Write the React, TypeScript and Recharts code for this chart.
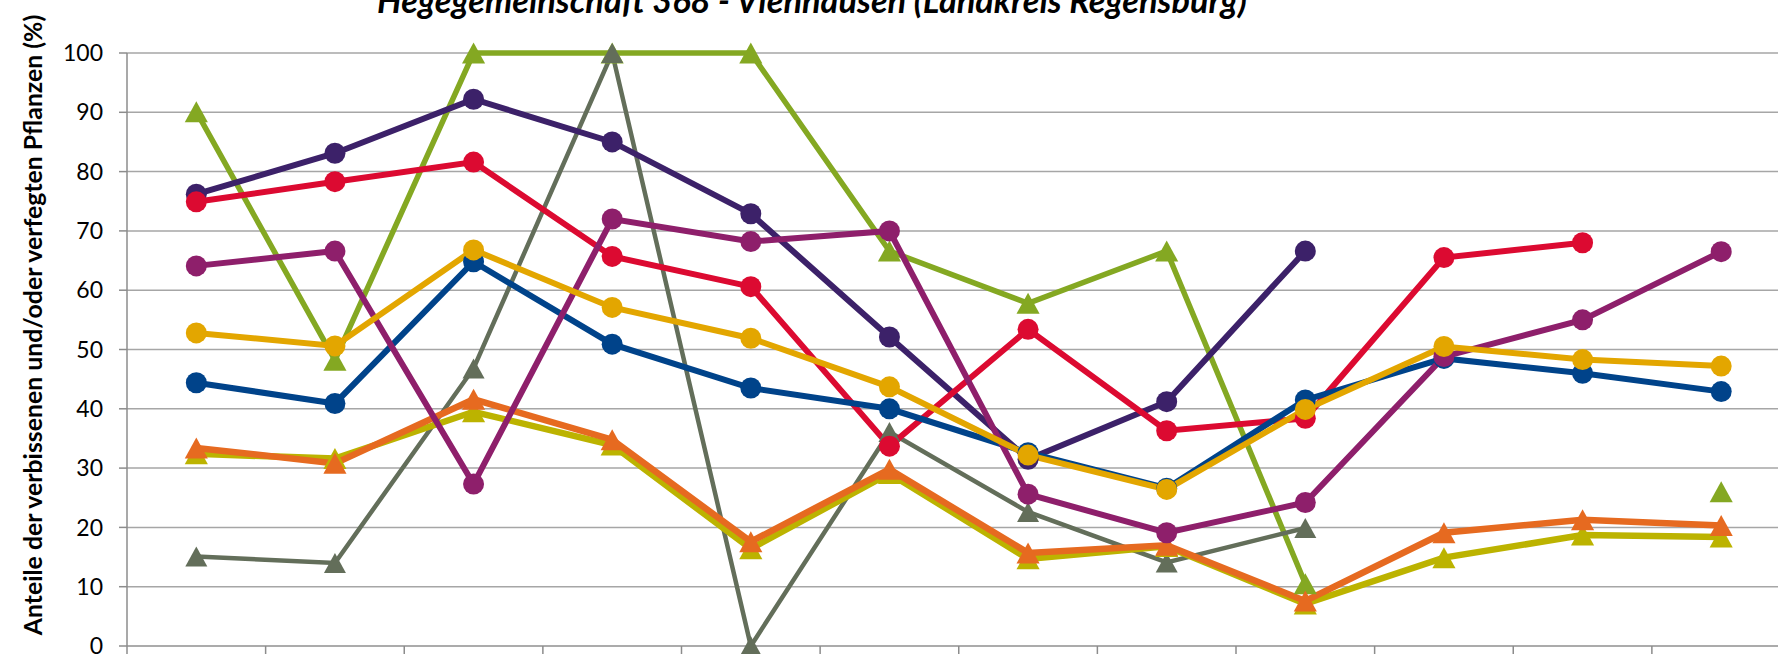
import React from 'react';
import { LineChart, Line, XAxis, YAxis, CartesianGrid } from 'recharts';

// ---- data ----
const years = ['1991', '1994', '1997', '2000', '2003', '2006', '2009', '2012', '2015', '2018', '2021', '2024'];
const yTicks = [0, 10, 20, 30, 40, 50, 60, 70, 80, 90, 100];

const seriesBlue = [44.4, 40.9, 64.8, 50.9, 43.5, 40.0, 32.6, 26.6, 41.5, 48.5, 46.0, 42.9];
const seriesPurple = [76.2, 83.1, 92.2, 85.0, 72.9, 52.1, 31.5, 41.2, 66.6, null, null, null];
const seriesRed = [74.9, 78.3, 81.6, 65.7, 60.6, 33.7, 53.4, 36.3, 38.4, 65.5, 68.0, null];
const seriesMagenta = [64.1, 66.6, 27.3, 72.0, 68.2, 70.0, 25.6, 19.1, 24.2, 48.8, 55.0, 66.5];
const seriesGold = [52.8, 50.6, 66.8, 57.1, 51.9, 43.7, 32.2, 26.4, 39.9, 50.5, 48.3, 47.2];
const seriesGreen = [90.1, 48.2, 100, 100, 100, 66.6, 57.8, 66.6, 10.5, null, null, 26.0];
const seriesGray = [15.1, 14.0, 46.8, 100, 0, 36.1, 22.6, 14.1, 19.9, null, null, null];
const seriesOlive = [32.4, 31.6, 39.5, 33.9, 16.4, 29.1, 14.7, 16.8, 7.1, 14.9, 18.7, 18.4];
const seriesOrange = [33.4, 30.8, 41.6, 34.8, 17.6, 29.8, 15.7, 17.0, 7.6, 19.1, 21.3, 20.3];

const title = 'Hegegemeinschaft 368 - Viehhausen (Landkreis Regensburg)';
const yLabel = 'Anteile der verbissenen und/oder verfegten Pflanzen (%)';

const data = years.map((year, i) => ({
  year,
  blue: seriesBlue[i],
  purple: seriesPurple[i],
  red: seriesRed[i],
  magenta: seriesMagenta[i],
  gold: seriesGold[i],
  green: seriesGreen[i],
  gray: seriesGray[i],
  olive: seriesOlive[i],
  orange: seriesOrange[i],
}));

// ---- layout ----
const W = 1800;
const H = 700;
const M = { top: 53, right: 9.5, left: 0, bottom: 24 };
const Y_AXIS_W = 127;
const HALF_BAND = (W - M.left - M.right - Y_AXIS_W) / years.length / 2;
const GRID = '#A6A6A6';
const AXIS = '#8C8C8C';
const FONT = 'Lato, "Open Sans", sans-serif';

const C = {
  blue: '#00438A',
  purple: '#3C2169',
  red: '#DC0A31',
  magenta: '#8E1F6B',
  gold: '#E3A600',
  green: '#84A822',
  gray: '#636E5A',
  olive: '#BCB300',
  orange: '#E66A20',
};

const triangleDot = (color: string, size: number) => (props: any) => {
  const { cx, cy, index, value } = props;
  if (cx == null || cy == null || value == null || Number.isNaN(cy)) return <g key={`t-${index}`} />;
  const hw = size * 0.55;
  const hh = size / 2;
  return (
    <path
      key={`t-${index}`}
      d={`M${cx},${cy - hh} L${cx + hw},${cy + hh} L${cx - hw},${cy + hh} Z`}
      fill={color}
    />
  );
};

const circle = (color: string) => ({ r: 10.5, fill: color, stroke: color, strokeWidth: 0 });

// category boundary tick marks (labels lie below the visible area in the reference)
const XTick = (props: any) => {
  const { x, y } = props;
  const bx = x - HALF_BAND;
  return <line x1={bx} x2={bx} y1={y} y2={y + 12} stroke={AXIS} strokeWidth={1.5} />;
};

export default function App() {
  return (
    <div
      style={{
        position: 'absolute',
        left: 0,
        top: 0,
        width: 1778,
        height: 654,
        overflow: 'hidden',
        background: '#fff',
      }}
    >
      <LineChart width={W} height={H} data={data} margin={M}>
        <CartesianGrid horizontal vertical={false} stroke={GRID} strokeWidth={1.5} />
        <XAxis
          dataKey="year"
          padding={{ left: HALF_BAND, right: HALF_BAND }}
          axisLine={{ stroke: GRID, strokeWidth: 1.5 }}
          tickLine={false}
          tickSize={0}
          tickMargin={0}
          height={30}
          interval={0}
          tick={<XTick />}
        />
        <YAxis
          width={Y_AXIS_W}
          domain={[0, 100]}
          ticks={yTicks}
          interval={0}
          axisLine={{ stroke: AXIS, strokeWidth: 1.5 }}
          tickLine={{ stroke: AXIS, strokeWidth: 1.5 }}
          tickSize={8}
          tickMargin={16}
          tick={{ fontFamily: FONT, fontSize: 23, fill: '#000' }}
        />
        <Line dataKey="green" stroke={C.green} strokeWidth={5.5} dot={triangleDot(C.green, 21)} isAnimationActive={false} />
        <Line dataKey="gray" stroke={C.gray} strokeWidth={4.5} dot={triangleDot(C.gray, 20)} isAnimationActive={false} />
        <Line dataKey="olive" stroke={C.olive} strokeWidth={6.5} dot={triangleDot(C.olive, 21)} isAnimationActive={false} />
        <Line dataKey="orange" stroke={C.orange} strokeWidth={6.5} dot={triangleDot(C.orange, 21)} isAnimationActive={false} />
        <Line dataKey="purple" stroke={C.purple} strokeWidth={6} dot={circle(C.purple)} isAnimationActive={false} />
        <Line dataKey="red" stroke={C.red} strokeWidth={6} dot={circle(C.red)} isAnimationActive={false} />
        <Line dataKey="blue" stroke={C.blue} strokeWidth={6} dot={circle(C.blue)} isAnimationActive={false} />
        <Line dataKey="magenta" stroke={C.magenta} strokeWidth={6} dot={circle(C.magenta)} isAnimationActive={false} />
        <Line dataKey="gold" stroke={C.gold} strokeWidth={6} dot={circle(C.gold)} isAnimationActive={false} />
      </LineChart>
      <svg
        width={1778}
        height={654}
        style={{ position: 'absolute', left: 0, top: 0, pointerEvents: 'none' }}
      >
        <text
          x={812}
          y={13}
          textAnchor="middle"
          fontFamily={FONT}
          fontStyle="italic"
          fontWeight="bold"
          fontSize={34.3}
          fill="#000"
        >
          {title}
        </text>
        <text
          x={0}
          y={0}
          transform="translate(42 325) rotate(-90)"
          textAnchor="middle"
          fontFamily={FONT}
          fontWeight="bold"
          fontSize={24.8}
          fill="#000"
        >
          {yLabel}
        </text>
      </svg>
    </div>
  );
}
